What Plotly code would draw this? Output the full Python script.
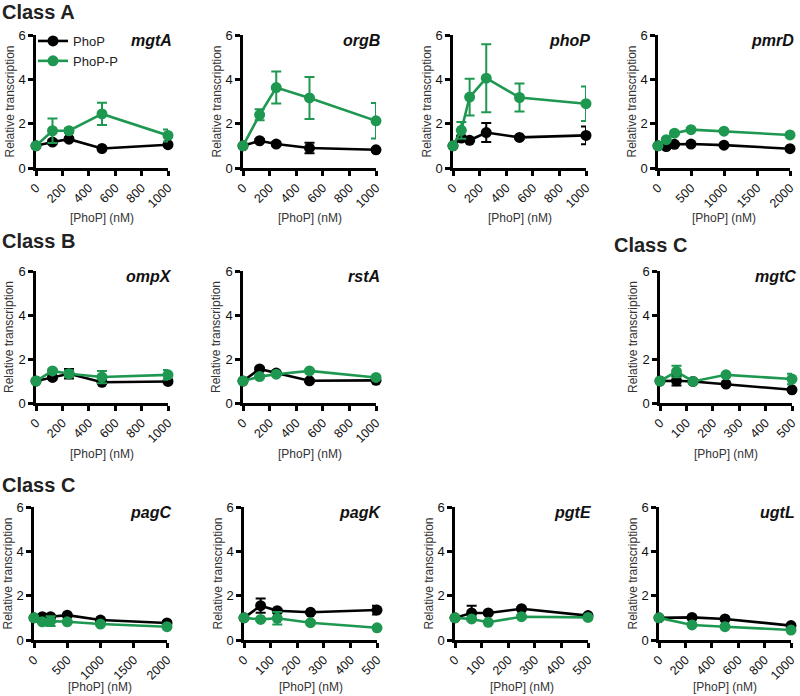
import plotly.graph_objects as go

# ---------------- data ----------------
mgtA_x = [0, 125, 250, 500, 1000]
mgtA_phop = [1.0, 1.17, 1.30, 0.88, 1.05]
mgtA_phop_err = [0.02, 0.08, 0.08, 0.06, 0.06]
mgtA_phopp = [1.0, 1.68, 1.68, 2.44, 1.47]
mgtA_phopp_err = [0.02, 0.55, 0.10, 0.50, 0.27]

orgB_x = [0, 125, 250, 500, 1000]
orgB_phop = [1.0, 1.23, 1.08, 0.90, 0.82]
orgB_phop_err = [0.02, 0.08, 0.08, 0.24, 0.06]
orgB_phopp = [1.0, 2.40, 3.63, 3.16, 2.13]
orgB_phopp_err = [0.02, 0.25, 0.72, 0.95, 0.80]

phoP_x = [0, 62.5, 125, 250, 500, 1000]
phoP_phop = [1.0, 1.35, 1.25, 1.60, 1.38, 1.47]
phoP_phop_err = [0.02, 0.10, 0.06, 0.43, 0.06, 0.40]
phoP_phopp = [1.0, 1.70, 3.20, 4.05, 3.18, 2.90]
phoP_phopp_err = [0.02, 0.38, 0.83, 1.53, 0.63, 0.78]

pmrD_x = [0, 125, 250, 500, 1000, 2000]
pmrD_phop = [1.0, 0.97, 1.07, 1.08, 1.03, 0.87]
pmrD_phop_err = [0.02, 0.05, 0.05, 0.05, 0.05, 0.05]
pmrD_phopp = [1.0, 1.28, 1.57, 1.73, 1.66, 1.49]
pmrD_phopp_err = [0.02, 0.05, 0.05, 0.05, 0.05, 0.05]

ompX_x = [0, 125, 250, 500, 1000]
ompX_phop = [1.0, 1.16, 1.33, 0.94, 0.98]
ompX_phop_err = [0.02, 0.06, 0.22, 0.06, 0.05]
ompX_phopp = [1.0, 1.46, 1.33, 1.18, 1.28]
ompX_phopp_err = [0.02, 0.06, 0.15, 0.28, 0.22]

rstA_x = [0, 125, 250, 500, 1000]
rstA_phop = [1.0, 1.55, 1.36, 1.01, 1.03]
rstA_phop_err = [0.02, 0.06, 0.06, 0.05, 0.05]
rstA_phopp = [1.0, 1.20, 1.31, 1.46, 1.16]
rstA_phopp_err = [0.02, 0.05, 0.05, 0.05, 0.05]

mgtC_x = [0, 62.5, 125, 250, 500]
mgtC_phop = [1.0, 1.01, 0.98, 0.86, 0.60]
mgtC_phop_err = [0.02, 0.22, 0.05, 0.05, 0.05]
mgtC_phopp = [1.0, 1.43, 0.98, 1.28, 1.09]
mgtC_phopp_err = [0.02, 0.26, 0.05, 0.06, 0.24]

pagC_x = [0, 125, 250, 500, 1000, 2000]
pagC_phop = [1.0, 1.05, 1.05, 1.12, 0.90, 0.77]
pagC_phop_err = [0.02, 0.05, 0.05, 0.05, 0.05, 0.05]
pagC_phopp = [1.0, 0.82, 0.85, 0.82, 0.72, 0.60]
pagC_phopp_err = [0.02, 0.05, 0.22, 0.05, 0.05, 0.05]

pagK_x = [0, 62.5, 125, 250, 500]
pagK_phop = [1.0, 1.55, 1.32, 1.25, 1.35]
pagK_phop_err = [0.02, 0.32, 0.08, 0.05, 0.20]
pagK_phopp = [1.0, 0.93, 0.98, 0.78, 0.55]
pagK_phopp_err = [0.02, 0.05, 0.28, 0.05, 0.05]

pgtE_x = [0, 62.5, 125, 250, 500]
pgtE_phop = [1.0, 1.22, 1.22, 1.41, 1.10]
pgtE_phop_err = [0.02, 0.33, 0.06, 0.06, 0.05]
pgtE_phopp = [1.0, 0.95, 0.80, 1.05, 1.02]
pgtE_phopp_err = [0.02, 0.05, 0.05, 0.05, 0.05]

ugtL_x = [0, 250, 500, 1000]
ugtL_phop = [1.0, 1.02, 0.95, 0.65]
ugtL_phop_err = [0.02, 0.05, 0.05, 0.05]
ugtL_phopp = [1.0, 0.68, 0.60, 0.45]
ugtL_phopp_err = [0.02, 0.05, 0.05, 0.05]

series_names = ["PhoP", "PhoP-P"]
class_labels = ["Class A", "Class B", "Class C", "Class C"]
x_title = "[PhoP] (nM)"
y_title = "Relative transcription"

# ---------------- layout ----------------
W, H = 800, 696
GREEN = "#1e9850"
BLACK = "#000000"
FONT = "Liberation Sans, Arial, Helvetica, sans-serif"

# gene, x, phop, phop_err, phopp, phopp_err, xmax, dtick, (x0, x1, ytop, ybottom) in px, x-title shift
panels = [
    ("mgtA", mgtA_x, mgtA_phop, mgtA_phop_err, mgtA_phopp, mgtA_phopp_err, 1000, 200, (36, 168, 35, 168), -50),
    ("orgB", orgB_x, orgB_phop, orgB_phop_err, orgB_phopp, orgB_phopp_err, 1000, 200, (243, 376, 35, 168), -50),
    ("phoP", phoP_x, phoP_phop, phoP_phop_err, phoP_phopp, phoP_phopp_err, 1000, 200, (453, 586, 35, 168), -50),
    ("pmrD", pmrD_x, pmrD_phop, pmrD_phop_err, pmrD_phopp, pmrD_phopp_err, 2000, 500, (658, 790, 35, 168), -50),
    ("ompX", ompX_x, ompX_phop, ompX_phop_err, ompX_phopp, ompX_phopp_err, 1000, 200, (36, 168, 271, 403), -51),
    ("rstA", rstA_x, rstA_phop, rstA_phop_err, rstA_phopp, rstA_phopp_err, 1000, 200, (243, 376, 271, 403), -51),
    ("mgtC", mgtC_x, mgtC_phop, mgtC_phop_err, mgtC_phopp, mgtC_phopp_err, 500, 100, (660, 792, 271, 403), -51),
    ("pagC", pagC_x, pagC_phop, pagC_phop_err, pagC_phopp, pagC_phopp_err, 2000, 500, (34, 167, 507, 640), -47),
    ("pagK", pagK_x, pagK_phop, pagK_phop_err, pagK_phopp, pagK_phopp_err, 500, 100, (244, 377, 507, 640), -47),
    ("pgtE", pgtE_x, pgtE_phop, pgtE_phop_err, pgtE_phopp, pgtE_phopp_err, 500, 100, (455, 588, 507, 640), -47),
    ("ugtL", ugtL_x, ugtL_phop, ugtL_phop_err, ugtL_phopp, ugtL_phopp_err, 1000, 200, (659, 791, 507, 640), -47),
]

fig = go.Figure()
layout = {}
annotations = []

for i, (gene, xs, p, pe, pp, ppe, xmax, dtick, (x0, x1, yt, yb), xts) in enumerate(panels):
    n = i + 1
    xa = "x" if n == 1 else f"x{n}"
    ya = "y" if n == 1 else f"y{n}"
    for name, ys, es, col in [(series_names[0], p, pe, BLACK), (series_names[1], pp, ppe, GREEN)]:
        fig.add_trace(go.Scatter(
            x=xs, y=ys, name=name, mode="lines+markers",
            error_y=dict(type="data", array=es, color=col, thickness=2, width=5),
            marker=dict(size=11, color=col),
            line=dict(width=2.6, color=col),
            cliponaxis=False, xaxis=xa, yaxis=ya,
            showlegend=(n == 1), legendgroup=name,
        ))
    common = dict(
        showline=True, linewidth=2.5, linecolor="black",
        ticks="outside", ticklen=5, tickwidth=2.5, tickcolor="black",
        showgrid=False, zeroline=False, layer="below traces",
        automargin=False,
    )
    layout[f"xaxis{'' if n == 1 else n}"] = dict(
        domain=[x0 / W, x1 / W], anchor=ya, range=[0, xmax], tick0=0, dtick=dtick,
        tickangle=-45, tickfont=dict(family=FONT, size=12.5, color="#111"), **common,
    )
    layout[f"yaxis{'' if n == 1 else n}"] = dict(
        domain=[1 - yb / H, 1 - yt / H], anchor=xa, range=[0, 6], tick0=0, dtick=2,
        tickfont=dict(family=FONT, size=13, color="#111"), **common,
    )
    # gene label
    annotations.append(dict(
        text=f"<b><i>{gene}</i></b>", xref=f"{xa} domain", yref=f"{ya} domain",
        x=1, xshift=6, y=1, xanchor="right", yanchor="middle", yshift=-5, showarrow=False,
        font=dict(family=FONT, size=16, color="#111"),
    ))
    # x axis title
    annotations.append(dict(
        text=x_title, xref=f"{xa} domain", yref=f"{ya} domain",
        x=0.5, y=0, yshift=xts, xanchor="center", yanchor="middle", showarrow=False,
        font=dict(family=FONT, size=12, color="#333"),
    ))
    # y axis title
    annotations.append(dict(
        text=y_title, xref=f"{xa} domain", yref=f"{ya} domain", textangle=-90,
        x=0, xshift=-27, y=0.5, xanchor="center", yanchor="middle", showarrow=False,
        font=dict(family=FONT, size=12, color="#333"),
    ))

for text, (px, py) in zip(class_labels, [(0, 12), (0, 241), (612, 245), (0, 485)]):
    annotations.append(dict(
        text=f"<b>{text}</b>", xref="paper", yref="paper", x=px / W, y=1 - py / H,
        xanchor="left", yanchor="middle", showarrow=False,
        font=dict(family=FONT, size=20, color="#222"),
    ))

fig.update_layout(
    width=W, height=H, margin=dict(l=0, r=0, t=0, b=0),
    paper_bgcolor="white", plot_bgcolor="white",
    annotations=annotations,
    legend=dict(x=33 / W, y=1 - 26 / H, xanchor="left", yanchor="top",
                bgcolor="rgba(0,0,0,0)", font=dict(family=FONT, size=13, color="#222"),
                tracegroupgap=0, itemwidth=30),
    showlegend=True,
    **layout,
)

fig.write_html(
    "out.html",
    config={"displayModeBar": False},
    post_script="document.body.style.margin='0px';document.body.style.padding='0px';",
)
